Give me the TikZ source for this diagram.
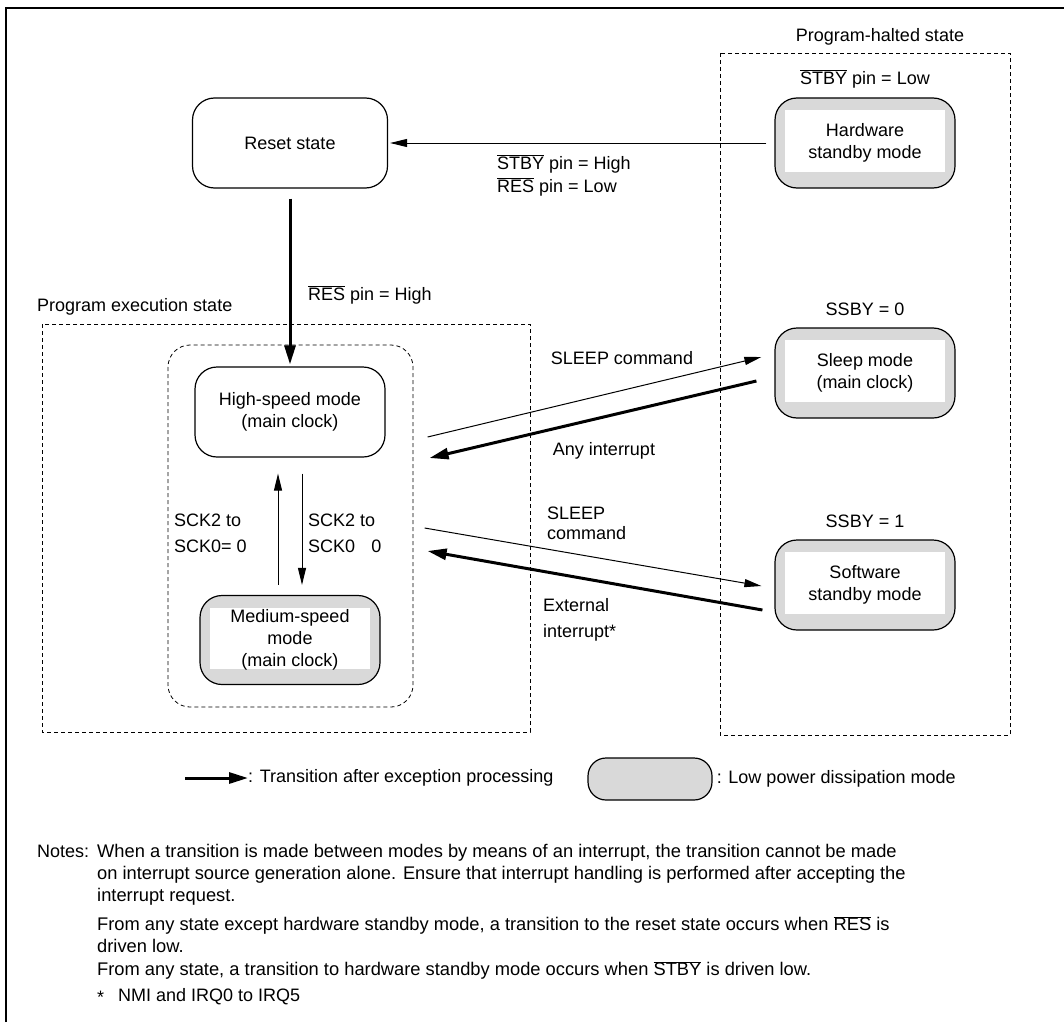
\documentclass[tikz,border=0pt]{standalone}
\usepackage{fontspec}
\setmainfont{Liberation Sans}
\usetikzlibrary{arrows.meta,positioning,calc}
\newcommand{\ovl}[1]{$\smash{\overline{\mbox{#1}}}$}

\begin{document}
\begin{tikzpicture}[
  x=1pt,y=-1pt,
  font=\fontsize{18}{22}\selectfont,
  every node/.style={inner sep=0pt},
  mode/.style={draw,line width=1.2pt,rounded corners=22pt,align=center},
  lowpow/.style={mode,fill=black!15,
    path picture={\fill[white,sharp corners] ([xshift=10pt,yshift=-12pt]path picture bounding box.north west)
      rectangle ([xshift=-10pt,yshift=16pt]path picture bounding box.south east);}},
  region/.style={draw,line width=0.8pt,dash pattern=on 4pt off 3pt},
  plainarrow/.style={line width=1pt,-{Triangle[length=17pt,width=8pt]}},
  excarrow/.style={line width=3pt,-{Triangle[length=19pt,width=11pt]}},
  lbl/.style={align=left,anchor=west},
  notetext/.style={anchor=north west,align=left,font=\fontsize{18.3}{22}\selectfont}
]
  \useasboundingbox (0,0) rectangle (1064,1022);
  % frame
  \draw[line width=2.5pt] (6,1022) -- (6,8) -- (1064,8);

  % state regions
  \draw[region] (720,53) rectangle (1010,735);
  \node (haltlbl) at (880,37) {Program-halted state};
  \draw[region] (42,324) rectangle (530,732);
  \node[anchor=west] (execlbl) at (37,307) {Program execution state};
  \draw[region,rounded corners=22pt] (168,345) rectangle (413,707);

  % modes
  \node[mode,minimum width=195pt,minimum height=90pt] (reset) at (290,143) {Reset state};
  \node[lowpow,minimum width=180pt,minimum height=90pt] (hw) at (865,143) {Hardware\\standby mode};
  \node[lowpow,minimum width=180pt,minimum height=90pt] (sleep) at (865,373) {Sleep mode\\(main clock)};
  \node[lowpow,minimum width=180pt,minimum height=90pt] (sw) at (865,585) {Software\\standby mode};
  \node[mode,minimum width=190pt,minimum height=90pt] (hs) at (290,412) {High-speed mode\\(main clock)};
  \node[lowpow,minimum width=180pt,minimum height=89pt] (med) at (290,640) {Medium-speed\\mode\\(main clock)};

  \node[above=9pt of hw] (hwcond) {\ovl{STBY} pin = Low};
  \node[above=12pt of sleep] (sleepcond) {SSBY = 0};
  \node[above=12pt of sw] (swcond) {SSBY = 1};

  % transitions
  \draw[plainarrow,shorten <=8pt,shorten >=2pt] (hw.west) -- (reset.east);
  \node[lbl] (wakelbl) at (497,176) {\ovl{STBY} pin = High\\[1pt]\ovl{RES} pin = Low};
  \draw[excarrow,shorten <=10pt,shorten >=2pt] (reset.south) -- (hs.north);
  \node[lbl] (reslbl) at (308,296) {\ovl{RES} pin = High};

  \draw[plainarrow] ($(hs.east)+(42,25)$) -- ($(sleep.west)+(-13,-16)$);
  \node (sleepcmd1) at (622,358) {SLEEP command};
  \draw[excarrow] ($(sleep.west)+(-18,8)$) -- ($(hs.east)+(44,46)$);
  \node (anyint) at (604,451) {Any interrupt};

  \draw[plainarrow] ($(hs.east)+(39,116)$) -- ($(sw.west)+(-13,1)$);
  \node[lbl] (sleepcmd2) at (547,523) {SLEEP\\[-2pt]command};
  \draw[excarrow] ($(sw.west)+(-12,25)$) -- ($(hs.east)+(42,139)$);
  \node[lbl] (extint) at (543,620) {External\\[4pt]interrupt*};

  \draw[plainarrow] ($(med.north)+(-12,-10)$) -- ($(hs.south)+(-12,16)$);
  \draw[plainarrow] ($(hs.south)+(12,16)$) -- ($(med.north)+(12,-10)$);
  \node[lbl] (scklow) at (174,533) {SCK2 to\\[4pt]SCK0= 0};
  \node[lbl] (sckhigh) at (308,533) {SCK2 to\\[4pt]SCK0\hspace{0.9em}0};

  % legend
  \coordinate (legstart) at (185,778);
  \node[lbl] (legarrow) at (248,778) {: Transition after exception processing};
  \draw[excarrow] (legstart) -- (legarrow.west);
  \node[draw,line width=1.2pt,fill=black!15,rounded corners=18pt,minimum width=124pt,minimum height=42pt] (legbox) at (650,779) {};
  \node[lbl,right=4pt of legbox] (legpow) {: Low power dissipation mode};

  % notes
  \node[anchor=west] (noteshead) at (37,851) {Notes:};
  \node[notetext] (note1) at (97,844.5) {When a transition is made between modes by means of an interrupt, the transition cannot be made\\on interrupt source generation alone. Ensure that interrupt handling is performed after accepting the\\interrupt request.};
  \node[notetext] (note2) at (97,917.5) {From any state except hardware standby mode, a transition to the reset state occurs when \ovl{RES} is\\driven low.};
  \node[notetext] (note3) at (97,962.5) {From any state, a transition to hardware standby mode occurs when \ovl{STBY} is driven low.};
  \node[anchor=west] (fnmark) at (97,997) {*};
  \node[anchor=west] (fntext) at (118,997) {NMI and IRQ0 to IRQ5};
\end{tikzpicture}
\end{document}
